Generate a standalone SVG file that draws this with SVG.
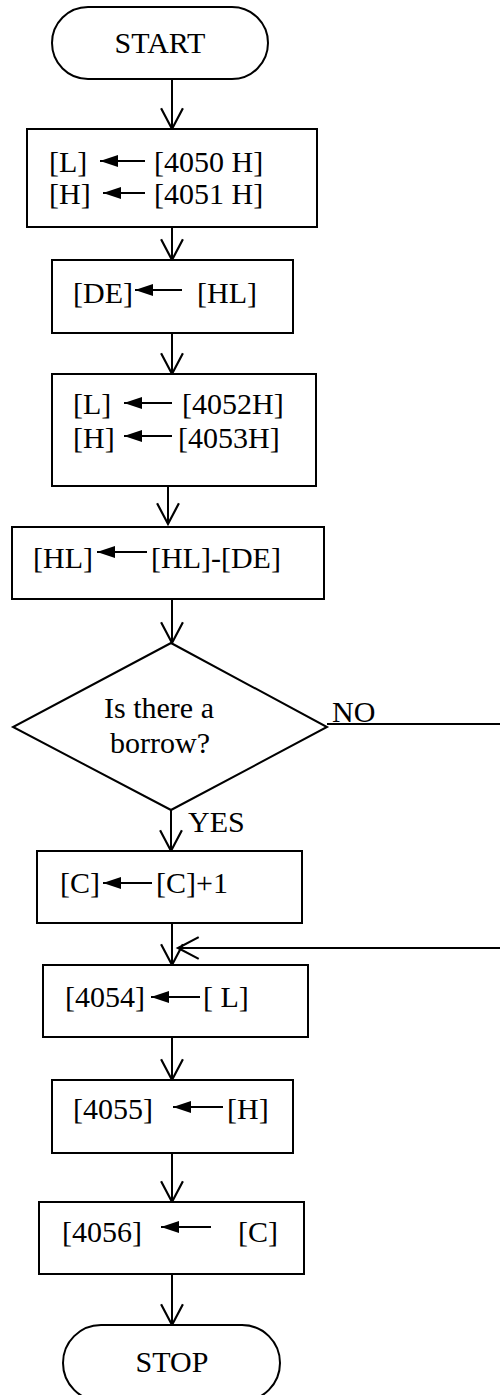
<svg xmlns="http://www.w3.org/2000/svg" width="500" height="1395" viewBox="0 0 500 1395">
<style>
.s{fill:#fff;stroke:#000;stroke-width:2}
.t{font-family:"Liberation Serif","Times New Roman",serif;font-size:30px;fill:#000}
.c{text-anchor:middle}
.k{stroke:#000;stroke-width:2;fill:none}
.a{stroke:#000;stroke-width:2;fill:none;marker-end:url(#f)}
</style>
<defs>
<marker id="v" markerUnits="userSpaceOnUse" markerWidth="24" markerHeight="24" viewBox="0 0 22 22" refX="20" refY="11" orient="auto" overflow="visible">
<path d="M1,1 L20,11 L1,21" fill="none" stroke="#000" stroke-width="2"/>
</marker>
<marker id="f" markerUnits="userSpaceOnUse" markerWidth="20" markerHeight="12" viewBox="0 0 18 12" refX="18" refY="6" orient="auto" overflow="visible">
<path d="M0,0 L18,6 L0,12 Z" fill="#000"/>
</marker>
</defs>
<g id="connectors" class="k" marker-end="url(#v)">
<path d="M172,79 V129"/>
<path d="M172,227 V260"/>
<path d="M172,333 V374"/>
<path d="M168,486 V524"/>
<path d="M172,599 V643"/>
<path d="M171,810 V851"/>
<path d="M172,923 V965"/>
<path d="M327,724 H502 V948 H178"/>
<path d="M172,1037 V1080"/>
<path d="M172,1153 V1202"/>
<path d="M172,1274 V1325"/>
</g>
<g id="start">
<rect class="s" x="52" y="7" width="216" height="72" rx="36"/>
<text class="t c" x="160" y="53">START</text>
</g>
<g id="box1">
<rect class="s" x="27" y="129" width="290" height="98"/>
<text class="t" x="49" y="172">[L]</text>
<path class="a" d="M145,161 H100"/>
<text class="t" x="154" y="172">[4050 H]</text>
<text class="t" x="49" y="204">[H]</text>
<path class="a" d="M145,193 H103"/>
<text class="t" x="154" y="204">[4051 H]</text>
</g>
<g id="box2">
<rect class="s" x="52" y="260" width="241" height="73"/>
<text class="t" x="73" y="303">[DE]</text>
<path class="a" d="M182,290 H135"/>
<text class="t" x="197" y="303">[HL]</text>
</g>
<g id="box3">
<rect class="s" x="52" y="374" width="264" height="112"/>
<text class="t" x="73" y="414">[L]</text>
<path class="a" d="M172,403 H124"/>
<text class="t" x="182" y="414">[4052H]</text>
<text class="t" x="73" y="448">[H]</text>
<path class="a" d="M172,436 H124"/>
<text class="t" x="178" y="448">[4053H]</text>
</g>
<g id="box4">
<rect class="s" x="12" y="527" width="312" height="72"/>
<text class="t" x="33" y="568">[HL]</text>
<path class="a" d="M147,552 H97"/>
<text class="t" x="151" y="568">[HL]-[DE]</text>
</g>
<g id="decision">
<polygon class="s" points="171,643 327,727 171,810 13,727"/>
<text class="t c" x="159" y="718">Is there a</text>
<text class="t c" x="160" y="753">borrow?</text>
</g>
<g id="labels">
<text class="t" x="332" y="722">NO</text>
<text class="t" x="188" y="832">YES</text>
</g>
<g id="box5">
<rect class="s" x="37" y="851" width="265" height="72"/>
<text class="t" x="60" y="893">[C]</text>
<path class="a" d="M152,883 H103"/>
<text class="t" x="156" y="893">[C]+1</text>
</g>
<g id="box6">
<rect class="s" x="43" y="965" width="265" height="72"/>
<text class="t" x="65" y="1007">[4054]</text>
<path class="a" d="M200,997 H151"/>
<text class="t" x="203" y="1007">[ L]</text>
</g>
<g id="box7">
<rect class="s" x="52" y="1080" width="241" height="73"/>
<text class="t" x="73" y="1119">[4055]</text>
<path class="a" d="M223,1107 H173"/>
<text class="t" x="227" y="1119">[H]</text>
</g>
<g id="box8">
<rect class="s" x="39" y="1202" width="265" height="72"/>
<text class="t" x="62" y="1242">[4056]</text>
<path class="a" d="M211,1227 H161"/>
<text class="t" x="238" y="1242">[C]</text>
</g>
<g id="stop">
<rect class="s" x="63" y="1325" width="217" height="76" rx="38"/>
<text class="t c" x="172" y="1372">STOP</text>
</g>
</svg>
